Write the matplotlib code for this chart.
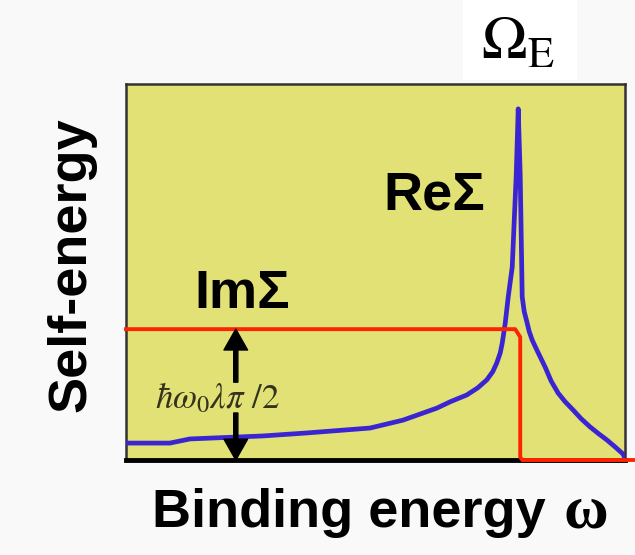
import matplotlib
matplotlib.use("Agg")
import matplotlib.pyplot as plt
from matplotlib.patches import Rectangle

plt.rcParams['mathtext.fontset'] = 'stix'

# binding energy axis runs 0..10 (arb. units), self-energy 0..10
re_w = [0.00, 0.88, 1.28, 2.75, 3.63, 4.89, 5.55, 6.23, 6.50, 6.83, 7.05, 7.23,
        7.35, 7.43, 7.50, 7.54, 7.60, 7.66, 7.74, 7.82, 7.86, 7.90, 7.94, 7.98,
        8.04, 8.08, 8.14, 8.25, 8.40, 8.52, 8.66, 8.80, 8.96, 9.12, 9.30, 9.47,
        9.64, 9.80, 9.96, 10.00]
re_sigma = [0.45, 0.45, 0.56, 0.64, 0.72, 0.85, 1.06, 1.38, 1.55, 1.73, 1.92, 2.13,
            2.35, 2.58, 2.85, 3.11, 3.64, 4.34, 5.13, 7.58, 9.34, 7.58, 4.34, 3.95,
            3.64, 3.42, 3.19, 2.88, 2.47, 2.10, 1.78, 1.55, 1.33, 1.10, 0.88, 0.70,
            0.53, 0.35, 0.16, 0.05]

im_w = [0.00, 7.80, 7.90, 7.90, 7.94, 10.16]
im_sigma = [3.48, 3.48, 3.27, 0.08, 0.00, 0.00]

gap_x = 2.20
gap_label_top = 2.07
gap_label_bottom = 1.25

fig = plt.figure(figsize=(6.35, 5.55), dpi=100, facecolor='#f9f9f9')
ax = fig.add_axes([126 / 635, 1 - 460 / 555, 499 / 635, 376 / 555])
ax.set_facecolor('#e1e176')
ax.set_xlim(0, 10)
ax.set_ylim(0, 10)
ax.set_xticks([])
ax.set_yticks([])
for side in ['left', 'top', 'right']:
    ax.spines[side].set_color('#333333')
    ax.spines[side].set_linewidth(1.8)
ax.spines['bottom'].set_color('black')
ax.spines['bottom'].set_linewidth(3.5)

ax.plot(re_w, re_sigma, color='#3b25d2', lw=3.4, solid_joinstyle='round', zorder=3)
ax.plot(im_w, im_sigma, color='#ff2400', lw=2.8, clip_on=False, zorder=4)

# double arrow marking the ImSigma step height
arrow_kw = dict(width=3, headwidth=17, headlength=15, shrink=0, color='black')
ax.annotate('', xy=(gap_x, im_sigma[0]), xytext=(gap_x, gap_label_top),
            arrowprops=arrow_kw, zorder=5)
ax.annotate('', xy=(gap_x, 0), xytext=(gap_x, gap_label_bottom),
            arrowprops=arrow_kw, zorder=5)
ax.text(0.58, (gap_label_top + gap_label_bottom) / 2, r'$\hbar\omega_0\lambda\pi\ /2$',
        ha='left', va='center', fontsize=25, color='#34341c')

ax.text(5.15, 6.65, 'ReΣ', fontsize=39, fontweight='bold', family='Liberation Sans',
        ha='left', va='baseline')
ax.text(1.38, 4.04, 'ImΣ', fontsize=39, fontweight='bold', family='Liberation Sans',
        ha='left', va='baseline')

# white patch behind the Omega_E marker
fig.patches.append(Rectangle((463 / 635, 1 - 80 / 555), 114 / 635, 80 / 555,
                             transform=fig.transFigure, facecolor='white',
                             edgecolor='none'))
fig.text(481 / 635, 1 - 60 / 555, r'$\Omega_{\rm E}$', fontsize=44,
         ha='left', va='baseline')

fig.text(72 / 635, 1 - 265 / 555, 'Self-energy', rotation=90, fontsize=39,
         fontweight='bold', family='Liberation Sans', ha='center', va='center')
fig.text(152 / 635, 1 - 527 / 555, 'Binding energy', fontsize=39,
         fontweight='bold', family='Liberation Sans', ha='left', va='baseline')
fig.text(563 / 635, 1 - 527 / 555, 'ω', fontsize=44, fontweight='bold',
         family='Liberation Serif', ha='left', va='baseline')

fig.savefig('out.png', dpi=100, facecolor=fig.get_facecolor())
